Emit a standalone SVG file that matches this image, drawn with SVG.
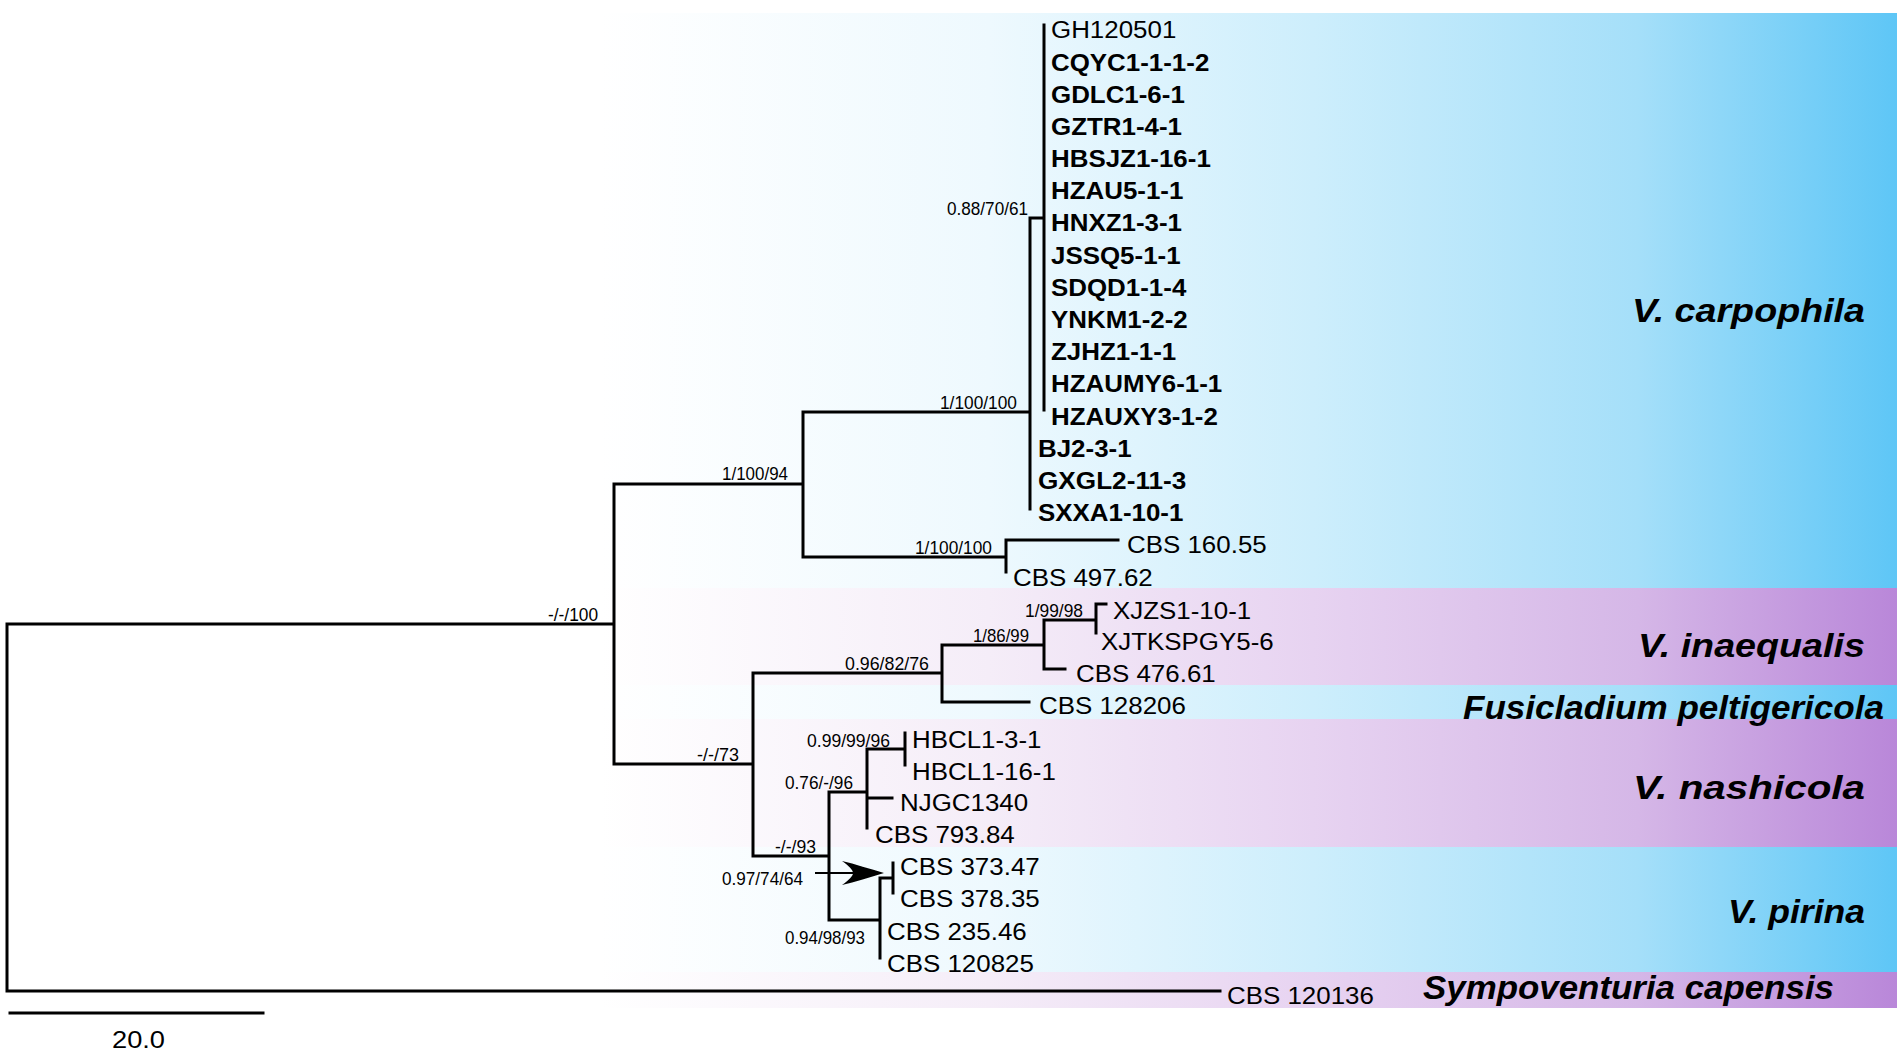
<svg xmlns="http://www.w3.org/2000/svg" width="1902" height="1056" viewBox="0 0 1902 1056">
<defs>
<linearGradient id="gb" gradientUnits="userSpaceOnUse" x1="600" y1="0" x2="1897" y2="0">
<stop offset="0" stop-color="#FFFFFF"/>
<stop offset="0.3" stop-color="#EEF9FE"/>
<stop offset="0.55" stop-color="#CDEEFC"/>
<stop offset="0.8" stop-color="#A5DFF9"/>
<stop offset="1" stop-color="#5EC6F6"/>
</linearGradient>
<linearGradient id="gp" gradientUnits="userSpaceOnUse" x1="600" y1="0" x2="1897" y2="0">
<stop offset="0" stop-color="#FFFFFF"/>
<stop offset="0.3" stop-color="#F5EDF8"/>
<stop offset="0.55" stop-color="#E7D3F1"/>
<stop offset="0.8" stop-color="#D5B7E7"/>
<stop offset="1" stop-color="#B987D9"/>
</linearGradient>
<style>
.ln{fill:none;stroke:#000;stroke-width:3;stroke-linecap:square}
.t{font-family:"Liberation Sans",Arial,sans-serif;font-size:23.3px;fill:#000}
.b{font-weight:bold}
.s{font-family:"Liberation Sans Narrow","Liberation Sans",Arial,sans-serif;font-size:18.5px;fill:#000}
.c{font-family:"Liberation Sans",Arial,sans-serif;font-weight:bold;font-style:italic;font-size:32.5px;fill:#000;text-anchor:end}
</style>
</defs>
<rect width="1902" height="1056" fill="#FFFFFF"/>
<g id="bands">
<rect x="600" y="13" width="1297" height="575" fill="url(#gb)"/>
<rect x="600" y="588" width="1297" height="97" fill="url(#gp)"/>
<rect x="600" y="685" width="1297" height="34" fill="url(#gb)"/>
<rect x="600" y="719" width="1297" height="128" fill="url(#gp)"/>
<rect x="600" y="847" width="1297" height="125" fill="url(#gb)"/>
<rect x="600" y="972" width="1297" height="36" fill="url(#gp)"/>
</g>
<g id="connectors">
<path class="ln" d="M7,624 V991 M7,624 H614 M7,991 H1220
M614,484 V764 M614,484 H803 M614,764 H753
M803,412 V557 M803,412 H1030 M803,557 H1006
M1030,218 V509 M1030,218 H1044 M1044,25 V410
M1006,540 V572 M1006,540 H1118
M753,673 V856 M753,673 H942
M942,645 V702 M942,702 H1029 M942,645 H1044
M1044,620 V669 M1044,669 H1065 M1044,620 H1096
M1096,604 V633 M1096,604 H1106
M753,856 H829 M829,792 V920 M829,792 H867
M867,749 V828 M867,749 H905 M905,733 V765 M867,798 H892
M829,920 H880 M880,878 V958 M880,878 H893 M893,863 V893"/>
<path id="arrow" d="M815,873 H858" stroke="#000" stroke-width="2" fill="none"/>
<path d="M884,873 C870,869 855,864 842,861 C849,866 853,870 853,873 C853,876 849,880 842,885 C855,882 870,877 884,873 Z" fill="#000"/>
<path class="ln" d="M10,1013 H263"/>
</g>
<g id="scale"><text class="t" x="112" y="1048" textLength="53" lengthAdjust="spacingAndGlyphs">20.0</text></g>
<g id="support">
<text class="s" x="947" y="215" textLength="81" lengthAdjust="spacingAndGlyphs">0.88/70/61</text>
<text class="s" x="940" y="409" textLength="77" lengthAdjust="spacingAndGlyphs">1/100/100</text>
<text class="s" x="722" y="480" textLength="66" lengthAdjust="spacingAndGlyphs">1/100/94</text>
<text class="s" x="915" y="554" textLength="77" lengthAdjust="spacingAndGlyphs">1/100/100</text>
<text class="s" x="548" y="621" textLength="50" lengthAdjust="spacingAndGlyphs">-/-/100</text>
<text class="s" x="1025" y="617" textLength="58" lengthAdjust="spacingAndGlyphs">1/99/98</text>
<text class="s" x="973" y="642" textLength="56" lengthAdjust="spacingAndGlyphs">1/86/99</text>
<text class="s" x="845" y="670" textLength="84" lengthAdjust="spacingAndGlyphs">0.96/82/76</text>
<text class="s" x="697" y="761" textLength="42" lengthAdjust="spacingAndGlyphs">-/-/73</text>
<text class="s" x="807" y="747" textLength="83" lengthAdjust="spacingAndGlyphs">0.99/99/96</text>
<text class="s" x="785" y="789" textLength="68" lengthAdjust="spacingAndGlyphs">0.76/-/96</text>
<text class="s" x="775" y="853" textLength="41" lengthAdjust="spacingAndGlyphs">-/-/93</text>
<text class="s" x="722" y="884.5" textLength="81" lengthAdjust="spacingAndGlyphs">0.97/74/64</text>
<text class="s" x="785" y="943.5" textLength="80" lengthAdjust="spacingAndGlyphs">0.94/98/93</text>
</g>
<g id="taxa">
<text id="t-GH120501" class="t" x="1051" y="38.3" textLength="125.3" lengthAdjust="spacingAndGlyphs">GH120501</text>
<text id="t-CQYC" class="t b" x="1051" y="70.5" textLength="158.3" lengthAdjust="spacingAndGlyphs">CQYC1-1-1-2</text>
<text id="t-GDLC" class="t b" x="1051" y="102.7" textLength="133.8" lengthAdjust="spacingAndGlyphs">GDLC1-6-1</text>
<text id="t-GZTR" class="t b" x="1051" y="134.9" textLength="131" lengthAdjust="spacingAndGlyphs">GZTR1-4-1</text>
<text id="t-HBSJZ" class="t b" x="1051" y="167.1" textLength="159.8" lengthAdjust="spacingAndGlyphs">HBSJZ1-16-1</text>
<text id="t-HZAU5" class="t b" x="1051" y="199.3" textLength="132.4" lengthAdjust="spacingAndGlyphs">HZAU5-1-1</text>
<text id="t-HNXZ" class="t b" x="1051" y="231.4" textLength="131" lengthAdjust="spacingAndGlyphs">HNXZ1-3-1</text>
<text id="t-JSSQ" class="t b" x="1051" y="263.6" textLength="129.6" lengthAdjust="spacingAndGlyphs">JSSQ5-1-1</text>
<text id="t-SDQD" class="t b" x="1051" y="295.8" textLength="135.3" lengthAdjust="spacingAndGlyphs">SDQD1-1-4</text>
<text id="t-YNKM" class="t b" x="1051" y="328" textLength="136.7" lengthAdjust="spacingAndGlyphs">YNKM1-2-2</text>
<text id="t-ZJHZ" class="t b" x="1051" y="360.2" textLength="125.2" lengthAdjust="spacingAndGlyphs">ZJHZ1-1-1</text>
<text id="t-HZAUMY6" class="t b" x="1051" y="392.4" textLength="171.2" lengthAdjust="spacingAndGlyphs">HZAUMY6-1-1</text>
<text id="t-HZAUXY3" class="t b" x="1051" y="424.6" textLength="166.9" lengthAdjust="spacingAndGlyphs">HZAUXY3-1-2</text>
<text id="t-BJ2" class="t b" x="1038" y="456.8" textLength="93.6" lengthAdjust="spacingAndGlyphs">BJ2-3-1</text>
<text id="t-GXGL2" class="t b" x="1038" y="488.9" textLength="148.3" lengthAdjust="spacingAndGlyphs">GXGL2-11-3</text>
<text id="t-SXXA1" class="t b" x="1038" y="521.1" textLength="145.4" lengthAdjust="spacingAndGlyphs">SXXA1-10-1</text>
<text id="t-CBS16055" class="t" x="1127" y="553.3" textLength="139.7" lengthAdjust="spacingAndGlyphs">CBS 160.55</text>
<text id="t-CBS49762" class="t" x="1013" y="585.5" textLength="139.7" lengthAdjust="spacingAndGlyphs">CBS 497.62</text>
<text id="t-XJZS" class="t" x="1113" y="619" textLength="138.2" lengthAdjust="spacingAndGlyphs">XJZS1-10-1</text>
<text id="t-XJTK" class="t" x="1101" y="650" textLength="172.7" lengthAdjust="spacingAndGlyphs">XJTKSPGY5-6</text>
<text id="t-CBS47661" class="t" x="1076" y="682.1" textLength="139.7" lengthAdjust="spacingAndGlyphs">CBS 476.61</text>
<text id="t-CBS128206" class="t" x="1039" y="714" textLength="146.9" lengthAdjust="spacingAndGlyphs">CBS 128206</text>
<text id="t-HBCL131" class="t" x="912" y="747.5" textLength="129.5" lengthAdjust="spacingAndGlyphs">HBCL1-3-1</text>
<text id="t-HBCL1161" class="t" x="912" y="779.5" textLength="143.9" lengthAdjust="spacingAndGlyphs">HBCL1-16-1</text>
<text id="t-NJGC" class="t" x="900" y="810.9" textLength="128.1" lengthAdjust="spacingAndGlyphs">NJGC1340</text>
<text id="t-CBS79384" class="t" x="875" y="843" textLength="139.7" lengthAdjust="spacingAndGlyphs">CBS 793.84</text>
<text id="t-CBS37347" class="t" x="900" y="875.2" textLength="139.7" lengthAdjust="spacingAndGlyphs">CBS 373.47</text>
<text id="t-CBS37835" class="t" x="900" y="907.4" textLength="139.7" lengthAdjust="spacingAndGlyphs">CBS 378.35</text>
<text id="t-CBS23546" class="t" x="887" y="939.6" textLength="139.7" lengthAdjust="spacingAndGlyphs">CBS 235.46</text>
<text id="t-CBS120825" class="t" x="887" y="971.8" textLength="146.9" lengthAdjust="spacingAndGlyphs">CBS 120825</text>
<text id="t-CBS120136" class="t" x="1227" y="1004" textLength="146.9" lengthAdjust="spacingAndGlyphs">CBS 120136</text>
</g>
<g id="clades">
<text id="c-carpophila" class="c" x="1865" y="322" textLength="233" lengthAdjust="spacingAndGlyphs">V. carpophila</text>
<text id="c-inaequalis" class="c" x="1865" y="657" textLength="227" lengthAdjust="spacingAndGlyphs">V. inaequalis</text>
<text id="c-fusicladium" class="c" x="1884" y="719" textLength="421" lengthAdjust="spacingAndGlyphs">Fusicladium peltigericola</text>
<text id="c-nashicola" class="c" x="1865" y="799" textLength="232" lengthAdjust="spacingAndGlyphs">V. nashicola</text>
<text id="c-pirina" class="c" x="1865" y="923" textLength="137" lengthAdjust="spacingAndGlyphs">V. pirina</text>
<text id="c-sympoventuria" class="c" x="1834" y="999" textLength="411" lengthAdjust="spacingAndGlyphs">Sympoventuria capensis</text>
</g>
</svg>
